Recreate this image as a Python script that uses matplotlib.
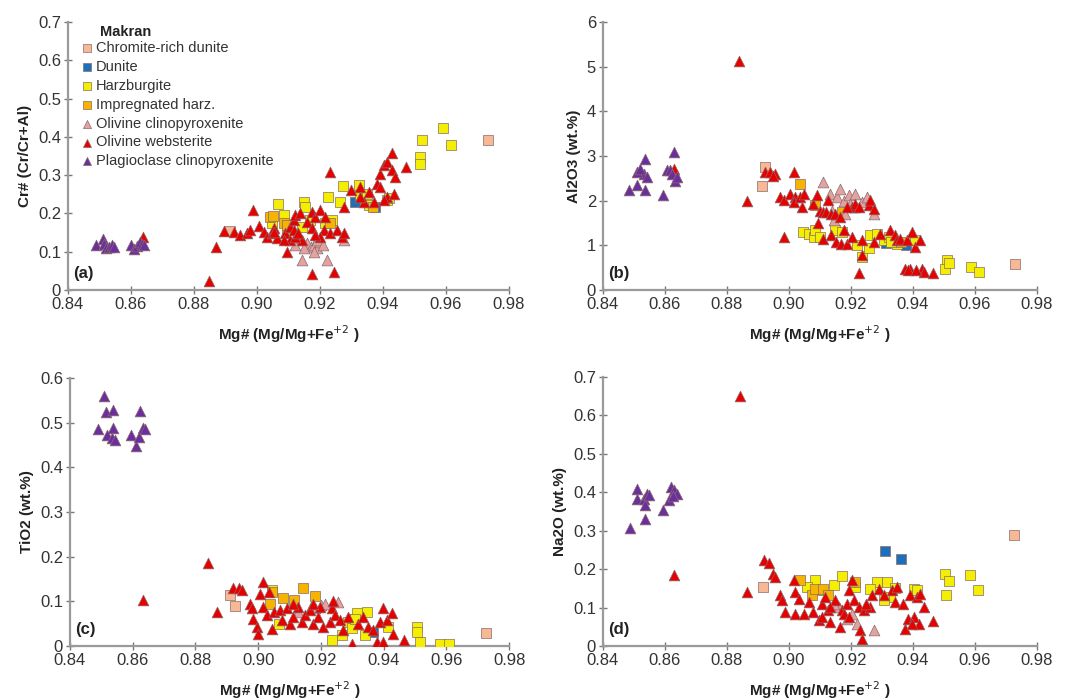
import matplotlib.pyplot as plt
import numpy as np
from matplotlib.ticker import FuncFormatter

plt.rcParams["font.family"] = ["Liberation Sans", "DejaVu Sans"]

# category names and colours
names = [
    "Chromite-rich dunite",
    "Dunite",
    "Harzburgite",
    "Impregnated harz.",
    "Olivine clinopyroxenite",
    "Olivine websterite",
    "Plagioclase clinopyroxenite",
]
colors = ["#f7b896", "#1c6fb8", "#f4ee00", "#f6b400", "#e3a2a2", "#e60000", "#6a2f9c"]
markers = ["s", "s", "s", "s", "^", "^", "^"]

# ---- panel (a): Cr# ----
a_chr = [(0.9733, 0.391), (0.8913, 0.154)]
a_dun = [(0.9312, 0.230), (0.9376, 0.217)]
a_hz = [(0.959, 0.424), (0.9524, 0.391), (0.9617, 0.378), (0.9516, 0.348), (0.9519, 0.330),
        (0.9272, 0.272), (0.9323, 0.274), (0.9227, 0.242), (0.9265, 0.230), (0.9328, 0.248),
        (0.9355, 0.222), (0.9413, 0.235), (0.9067, 0.224), (0.9148, 0.230), (0.9153, 0.217),
        (0.9085, 0.196), (0.9238, 0.183), (0.9217, 0.176), (0.9169, 0.183), (0.9143, 0.165),
        (0.9048, 0.174), (0.9350, 0.250), (0.9420, 0.240)]
a_imp = [(0.904, 0.191), (0.9085, 0.174), (0.9095, 0.157), (0.9051, 0.193), (0.9095, 0.170),
         (0.9232, 0.175), (0.9368, 0.217)]
a_ocpx = [(0.914, 0.13), (0.916, 0.122), (0.917, 0.113), (0.918, 0.117), (0.919, 0.109),
          (0.920, 0.126), (0.915, 0.109), (0.918, 0.100), (0.919, 0.130), (0.921, 0.117),
          (0.912, 0.117), (0.9143, 0.078), (0.9222, 0.078), (0.9275, 0.130)]
a_web = [(0.8847, 0.023), (0.8871, 0.113), (0.8894, 0.154), (0.8926, 0.152), (0.8947, 0.143),
         (0.8968, 0.148), (0.8989, 0.210), (0.8979, 0.157), (0.9005, 0.167), (0.9021, 0.152),
         (0.9032, 0.139), (0.9048, 0.148), (0.9053, 0.161), (0.9063, 0.135), (0.9095, 0.100),
         (0.9090, 0.148), (0.9106, 0.165), (0.9116, 0.183), (0.9122, 0.196), (0.9138, 0.200),
         (0.9143, 0.130), (0.9159, 0.178), (0.9175, 0.204), (0.9185, 0.191), (0.9201, 0.209),
         (0.9175, 0.043), (0.9243, 0.048), (0.9233, 0.309), (0.9212, 0.157), (0.9233, 0.148),
         (0.9254, 0.157), (0.9270, 0.139), (0.9275, 0.148), (0.9106, 0.130), (0.9122, 0.139),
         (0.9201, 0.139), (0.9275, 0.217), (0.9300, 0.261), (0.9328, 0.270), (0.9339, 0.230),
         (0.9355, 0.257), (0.9370, 0.230), (0.9381, 0.278), (0.9392, 0.304), (0.9402, 0.326),
         (0.9413, 0.335), (0.9429, 0.357), (0.9429, 0.313), (0.9439, 0.296), (0.9474, 0.322),
         (0.9392, 0.270), (0.9413, 0.243), (0.9434, 0.252), (0.9402, 0.235), (0.9328, 0.243),
         (0.9175, 0.161), (0.9085, 0.130), (0.9117, 0.157), (0.9053, 0.152), (0.9130, 0.148),
         (0.9185, 0.143), (0.9215, 0.191), (0.8638, 0.139)]
a_plag = [(0.849, 0.117), (0.851, 0.133), (0.8515, 0.120), (0.852, 0.110), (0.853, 0.112),
          (0.854, 0.118), (0.8545, 0.113), (0.860, 0.118), (0.861, 0.108), (0.862, 0.115),
          (0.863, 0.125), (0.8635, 0.120), (0.864, 0.117)]

# ---- panel (b): Al2O3 ----
b_chr = [(0.8924, 2.75), (0.8913, 2.33), (0.9728, 0.58)]
b_dun = [(0.9312, 1.05), (0.9376, 1.00)]
b_hz = [(0.951, 0.67), (0.9504, 0.48), (0.9515, 0.60), (0.9587, 0.52), (0.9614, 0.41),
        (0.9045, 1.30), (0.9063, 1.26), (0.908, 1.19), (0.9085, 1.34), (0.9101, 1.19),
        (0.915, 1.34), (0.9171, 1.30), (0.922, 1.00), (0.9236, 0.74), (0.9257, 0.93),
        (0.9262, 1.23), (0.9284, 1.26), (0.9305, 1.12), (0.9321, 1.19), (0.9348, 1.04),
        (0.9407, 1.12), (0.9330, 1.08)]
b_imp = [(0.9034, 2.38), (0.9085, 1.90), (0.9170, 1.75), (0.9360, 1.08)]
b_ocpx = [(0.9109, 2.42), (0.9133, 2.16), (0.9155, 2.08), (0.9176, 2.00), (0.9192, 2.12),
          (0.9214, 2.16), (0.9198, 1.93), (0.9181, 1.71), (0.9138, 1.78), (0.9214, 1.86),
          (0.9236, 1.97), (0.9273, 1.71), (0.9144, 1.56), (0.9166, 2.27), (0.9251, 2.08)]
b_web = [(0.884, 5.13), (0.8865, 1.99), (0.8924, 2.64), (0.894, 2.64), (0.8956, 2.60),
         (0.8950, 2.56), (0.897, 2.08), (0.8983, 2.02), (0.8983, 1.19), (0.9015, 2.64),
         (0.9004, 2.16), (0.902, 2.08), (0.9015, 1.97), (0.9037, 2.08), (0.9042, 1.86),
         (0.9047, 2.16), (0.9079, 1.93), (0.909, 2.12), (0.9101, 1.78), (0.9095, 1.49),
         (0.9111, 1.15), (0.9111, 1.75), (0.9127, 2.01), (0.912, 1.75), (0.9137, 1.71),
         (0.9147, 1.71), (0.9166, 1.64), (0.9137, 1.23), (0.9153, 1.08), (0.9169, 1.04),
         (0.9176, 1.34), (0.9187, 1.04), (0.9203, 1.19), (0.9203, 1.86), (0.9214, 1.93),
         (0.9225, 1.86), (0.9236, 1.12), (0.9225, 0.37), (0.9236, 0.78), (0.9257, 1.90),
         (0.9262, 2.01), (0.9273, 1.82), (0.9273, 1.08), (0.9294, 1.26), (0.9327, 1.34),
         (0.9342, 1.23), (0.9348, 1.12), (0.9359, 1.15), (0.938, 1.12), (0.9397, 1.30),
         (0.9408, 0.97), (0.9424, 1.12), (0.9375, 0.48), (0.9391, 0.48), (0.9429, 0.48),
         (0.9434, 0.41), (0.9466, 0.37), (0.9385, 0.45), (0.9410, 0.44), (0.9187, 1.86),
         (0.8628, 2.71)]
b_plag = [(0.8485, 2.23), (0.8509, 2.36), (0.8536, 2.94), (0.8531, 2.60), (0.8509, 2.64),
          (0.852, 2.71), (0.8542, 2.53), (0.8536, 2.25), (0.8594, 2.13), (0.8606, 2.68),
          (0.8617, 2.68), (0.8628, 3.09), (0.8623, 2.60), (0.8633, 2.45), (0.8639, 2.53)]

# ---- panel (c): TiO2 ----
c_chr = [(0.891, 0.114), (0.8926, 0.090), (0.9726, 0.030)]
c_dun = [(0.9309, 0.061), (0.9367, 0.031)]
c_hz = [(0.9043, 0.125), (0.9068, 0.050), (0.9235, 0.013), (0.9267, 0.024), (0.9288, 0.054),
        (0.9314, 0.073), (0.9346, 0.076), (0.934, 0.024), (0.9415, 0.043), (0.9506, 0.043),
        (0.9506, 0.031), (0.9515, 0.008), (0.9581, 0.005), (0.9607, 0.005), (0.9299, 0.040),
        (0.9310, 0.060)]
c_imp = [(0.9142, 0.131), (0.9078, 0.108), (0.9115, 0.102), (0.9182, 0.111), (0.9043, 0.121),
         (0.9038, 0.095)]
c_ocpx = [(0.9253, 0.099), (0.920, 0.091), (0.917, 0.088), (0.9127, 0.076), (0.9213, 0.094),
          (0.9182, 0.084)]
c_web = [(0.8634, 0.104), (0.8841, 0.185), (0.8868, 0.076), (0.892, 0.129), (0.894, 0.131),
         (0.8947, 0.126), (0.8974, 0.095), (0.898, 0.084), (0.8985, 0.061), (0.8996, 0.043),
         (0.900, 0.028), (0.9017, 0.144), (0.9006, 0.117), (0.9033, 0.121), (0.9017, 0.088),
         (0.9027, 0.069), (0.9043, 0.039), (0.9049, 0.076), (0.907, 0.080), (0.9075, 0.058),
         (0.9091, 0.084), (0.9102, 0.050), (0.9112, 0.065), (0.9128, 0.088), (0.9139, 0.054),
         (0.9149, 0.069), (0.9166, 0.080), (0.9176, 0.050), (0.9192, 0.065), (0.9197, 0.088),
         (0.9208, 0.043), (0.9229, 0.054), (0.9234, 0.084), (0.9245, 0.069), (0.9261, 0.058),
         (0.9272, 0.035), (0.9299, 0.005), (0.9288, 0.065), (0.9319, 0.050), (0.9335, 0.065),
         (0.9351, 0.043), (0.9367, 0.035), (0.9378, 0.009), (0.9389, 0.054), (0.9399, 0.084),
         (0.9399, 0.009), (0.941, 0.058), (0.9426, 0.073), (0.9431, 0.028), (0.9465, 0.014),
         (0.9112, 0.095), (0.9240, 0.100), (0.9176, 0.093)]
c_plag = [(0.8508, 0.559), (0.8515, 0.523), (0.8537, 0.528), (0.849, 0.485), (0.8537, 0.489),
          (0.8518, 0.473), (0.8533, 0.465), (0.8544, 0.461), (0.8594, 0.473), (0.8623, 0.527),
          (0.861, 0.448), (0.8621, 0.467), (0.8632, 0.489), (0.8639, 0.485)]

# ---- panel (d): Na2O ----
d_chr = [(0.8915, 0.154), (0.9725, 0.290)]
d_dun = [(0.9311, 0.247), (0.9362, 0.226)]
d_hz = [(0.9504, 0.188), (0.9515, 0.169), (0.9508, 0.132), (0.9583, 0.186), (0.9609, 0.145),
        (0.9085, 0.173), (0.9058, 0.154), (0.9101, 0.145), (0.9144, 0.158), (0.9171, 0.181),
        (0.9214, 0.154), (0.9284, 0.167), (0.9316, 0.167), (0.9327, 0.127), (0.9305, 0.119),
        (0.9402, 0.149), (0.9413, 0.145), (0.9262, 0.149), (0.9343, 0.152)]
d_imp = [(0.9034, 0.171), (0.9075, 0.132), (0.9085, 0.149), (0.9111, 0.149), (0.9214, 0.167),
         (0.9127, 0.132)]
d_ocpx = [(0.9273, 0.041), (0.9187, 0.071), (0.9203, 0.084), (0.9219, 0.058), (0.916, 0.101),
          (0.9144, 0.110)]
d_web = [(0.8841, 0.650), (0.863, 0.184), (0.8865, 0.141), (0.8918, 0.223), (0.8937, 0.216),
         (0.895, 0.188), (0.8956, 0.180), (0.8972, 0.132), (0.8978, 0.119), (0.8988, 0.088),
         (0.9015, 0.171), (0.902, 0.141), (0.9031, 0.123), (0.902, 0.084), (0.9047, 0.084),
         (0.9063, 0.114), (0.9079, 0.088), (0.9096, 0.067), (0.9106, 0.110), (0.9117, 0.127),
         (0.9127, 0.093), (0.9133, 0.062), (0.9149, 0.119), (0.9165, 0.049), (0.917, 0.093),
         (0.9187, 0.110), (0.9192, 0.145), (0.9203, 0.171), (0.9209, 0.119), (0.9225, 0.101),
         (0.923, 0.041), (0.9236, 0.019), (0.9241, 0.093), (0.9262, 0.101), (0.9268, 0.132),
         (0.9289, 0.149), (0.9305, 0.132), (0.9332, 0.145), (0.9343, 0.114), (0.9348, 0.154),
         (0.9369, 0.110), (0.9375, 0.045), (0.9385, 0.071), (0.9391, 0.132), (0.9402, 0.076),
         (0.9413, 0.127), (0.9418, 0.058), (0.9423, 0.136), (0.9434, 0.101), (0.9465, 0.064),
         (0.9396, 0.058), (0.9133, 0.101), (0.9176, 0.084), (0.9195, 0.075), (0.9250, 0.110),
         (0.9106, 0.075)]
d_plag = [(0.8486, 0.307), (0.8509, 0.409), (0.8509, 0.383), (0.8531, 0.383), (0.8542, 0.396),
          (0.8536, 0.366), (0.8536, 0.331), (0.8547, 0.394), (0.8594, 0.355), (0.8612, 0.379),
          (0.862, 0.414), (0.8628, 0.405), (0.8639, 0.396), (0.8625, 0.390)]

panels = [
    ([a_chr, a_dun, a_hz, a_imp, a_ocpx, a_web, a_plag], "Cr# (Cr/Cr+Al)", 0.7, 0.1, "(a)"),
    ([b_chr, b_dun, b_hz, b_imp, b_ocpx, b_web, b_plag], "Al2O3 (wt.%)", 6, 1, "(b)"),
    ([c_chr, c_dun, c_hz, c_imp, c_ocpx, c_web, c_plag], "TiO2 (wt.%)", 0.6, 0.1, "(c)"),
    ([d_chr, d_dun, d_hz, d_imp, d_ocpx, d_web, d_plag], "Na2O (wt.%)", 0.7, 0.1, "(d)"),
]
positions = [
    [0.0637, 0.5851, 0.4133, 0.3834],
    [0.5651, 0.5851, 0.4068, 0.3834],
    [0.0656, 0.0758, 0.4115, 0.3834],
    [0.5651, 0.0758, 0.4068, 0.3849],
]


def yfmt(v, pos):
    if abs(v) < 1e-9:
        return "0"
    if abs(v - round(v)) < 1e-9:
        return f"{v:.0f}"
    return f"{v:.1f}"


fig = plt.figure(figsize=(10.67, 6.99), dpi=100)

for (groups, ylabel, ymax, ystep, tag), pos in zip(panels, positions):
    ax = fig.add_axes(pos)
    for pts, name, col, mk in zip(groups, names, colors, markers):
        arr = np.array(pts)
        ax.scatter(arr[:, 0], arr[:, 1], marker=mk, s=60, c=col,
                   edgecolors="#8a6a6a", linewidths=0.5, label=name, zorder=3)

    ax.set_xlim(0.84, 0.98)
    ax.set_ylim(0, ymax)
    ax.set_xticks(np.arange(0.84, 0.981, 0.02))
    ax.set_yticks(np.arange(0, ymax + ystep / 2, ystep))
    ax.xaxis.set_major_formatter(FuncFormatter(lambda v, p: f"{v:.2f}"))
    ax.yaxis.set_major_formatter(FuncFormatter(yfmt))

    for side in ["top", "right"]:
        ax.spines[side].set_visible(False)
    for side in ["left", "bottom"]:
        ax.spines[side].set_color("#9a9a9a")
        ax.spines[side].set_linewidth(1.6)
    ax.tick_params(direction="inout", length=6, width=1, color="#777777",
                   labelsize=12, labelcolor="#333333", pad=2)

    ax.set_xlabel("Mg# (Mg/Mg+Fe$^{+2}$ )", fontsize=11, fontweight="bold",
                  color="#222222", labelpad=8)
    ax.set_ylabel(ylabel, fontsize=11, fontweight="bold", color="#222222", labelpad=4)
    ax.text(0.012, 0.035, tag, transform=ax.transAxes, fontsize=12,
            fontweight="bold", color="#222222", ha="left", va="bottom")

    if tag == "(a)":
        ax.text(0.073, 0.963, "Makran", transform=ax.transAxes, fontsize=10.5,
                fontweight="bold", color="#222222", ha="left", va="center")
        leg = ax.legend(loc="upper left", bbox_to_anchor=(0.02, 0.939), frameon=False,
                        fontsize=10.5, markerscale=0.75, borderpad=0.2,
                        handletextpad=0.1, labelspacing=0.33, borderaxespad=0.0,
                        handlelength=1.0)
        for t in leg.get_texts():
            t.set_color("#333333")

plt.savefig("out.png", dpi=100)
plt.close()
